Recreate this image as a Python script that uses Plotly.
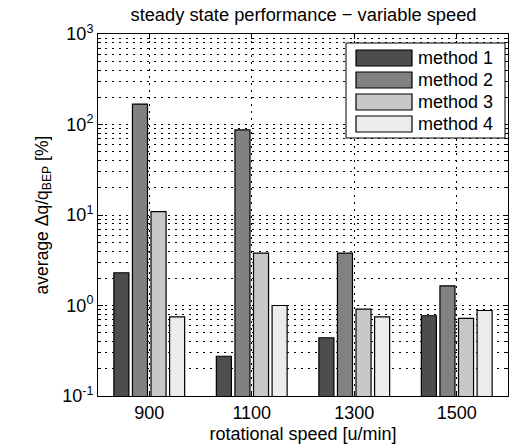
import plotly.graph_objects as go

categories = ["900", "1100", "1300", "1500"]
method_names = ["method 1", "method 2", "method 3", "method 4"]
method1 = [2.3, 0.275, 0.44, 0.77]
method2 = [168, 87, 3.8, 1.65]
method3 = [10.9, 3.8, 0.91, 0.72]
method4 = [0.75, 1.0, 0.75, 0.88]
colors = ["#4d4d4d", "#818181", "#c8c8c8", "#ececec"]
ytickvals = [0.1, 1, 10, 100, 1000]
yticktext = ["10<sup>-1</sup>", "10<sup>0</sup>", "10<sup>1</sup>", "10<sup>2</sup>", "10<sup>3</sup>"]

W, H = 509, 444
L, R, T, B = 98, 1, 34, 48
PW, PH = W - L - R, H - T - B

FONT = "Liberation Sans, Arial, sans-serif"
series = [method1, method2, method3, method4]

fig = go.Figure()
for name, vals, c in zip(method_names, series, colors):
    fig.add_trace(go.Bar(
        x=categories, y=vals, name=name,
        marker=dict(color=c, line=dict(color="black", width=1.2)),
        showlegend=False,
    ))

dash = "2px,5px"
fig.update_layout(
    width=W, height=H,
    margin=dict(l=L, r=R, t=T, b=B),
    paper_bgcolor="white", plot_bgcolor="white",
    font=dict(family=FONT, size=18, color="black"),
    barmode="group", bargap=0.275, bargroupgap=0.19,
    title=dict(text="steady state performance − variable speed",
               x=(130 + 477) / 2 / W, xanchor="center",
               y=1 - 15 / H, yanchor="middle",
               font=dict(size=18.3, family=FONT)),
)
fig.update_xaxes(
    type="category", range=[-0.5, 3.5],
    showline=True, linecolor="black", linewidth=1, mirror="ticks",
    ticks="inside", ticklen=5, tickcolor="black",
    showgrid=True, gridcolor="black", gridwidth=1, griddash=dash,
    title=dict(text="rotational speed [u/min]", standoff=6, font=dict(size=18)),
    tickfont=dict(size=18),
)
fig.update_yaxes(
    type="log", range=[-1, 3],
    tickvals=ytickvals, ticktext=yticktext,
    showline=True, linecolor="black", linewidth=1, mirror="ticks",
    ticks="inside", ticklen=5, tickcolor="black",
    showgrid=True, gridcolor="black", gridwidth=1, griddash=dash,
    minor=dict(ticks="inside", ticklen=3, tickcolor="black",
               showgrid=True, gridcolor="black", gridwidth=1, griddash=dash,
               dtick="D1"),
    title=dict(text="average Δq/q<sub>BEP</sub> [%]", standoff=9, font=dict(size=17.5)),
    tickfont=dict(size=18),
)

# custom legend (large swatches like the reference)
def px2paper_x(px):
    return (px - L) / PW

def px2paper_y(py):
    return (H - B - py) / PH

fig.add_shape(type="rect", xref="paper", yref="paper",
              x0=px2paper_x(346), x1=px2paper_x(505),
              y0=px2paper_y(138), y1=px2paper_y(43),
              fillcolor="white", line=dict(color="black", width=1), layer="above")
row_y = [58, 80, 102, 124]
for name, c, ry in zip(method_names, colors, row_y):
    fig.add_shape(type="rect", xref="paper", yref="paper",
                  x0=px2paper_x(356), x1=px2paper_x(412),
                  y0=px2paper_y(ry + 8), y1=px2paper_y(ry - 8),
                  fillcolor=c, line=dict(color="black", width=1.2), layer="above")
    fig.add_annotation(xref="paper", yref="paper",
                       x=px2paper_x(416), y=px2paper_y(ry),
                       text=name, showarrow=False, xanchor="left", yanchor="middle",
                       font=dict(size=18, family=FONT, color="black"))

fig.write_html("out.html", config={"displayModeBar": False},
               post_script="document.body.style.margin='0px';")
